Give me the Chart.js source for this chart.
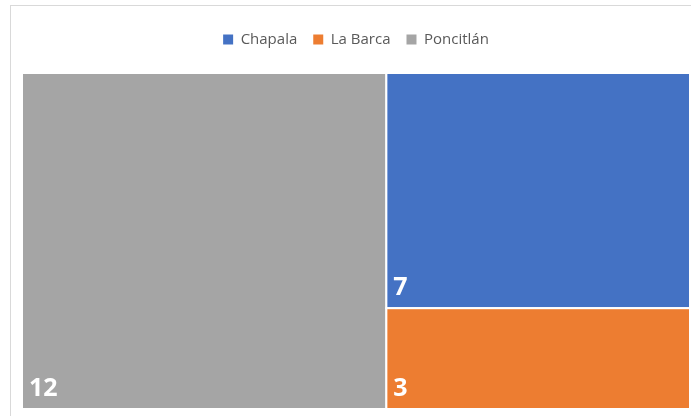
<!DOCTYPE html>
<html>
<head>
<meta charset="utf-8">
<script src="https://cdn.jsdelivr.net/npm/chart.js@4.4.0/dist/chart.umd.min.js"></script>
<style>
    html, body { margin: 0; padding: 0; background: #fff; overflow: hidden; }
    #frame { position: absolute; left: 10px; top: 5px; width: 800px; height: 500px; border: 1px solid #d9d9d9; }
    #wrap { position: absolute; left: 0; top: 0; width: 691px; height: 416px; }
</style>
</head>
<body>
<div id="frame"></div>
<div id="wrap"><canvas id="c"></canvas></div>
<script>
// Data treemap
const categories = ['Chapala', 'La Barca', 'Poncitlán'];
const values = [7, 3, 12];
const colors = ['#4472C4', '#ED7D31', '#A5A5A5'];

// Hitung layout treemap (slice sederhana, item terbesar dulu) dalam satuan 0..1
function layoutTreemap(pw, ph) {
    const order = values.map((v, i) => i).sort((a, b) => values[b] - values[a]);
    let rect = { x: 0, y: 0, w: 1, h: 1 };
    let remaining = values.reduce((a, b) => a + b, 0);
    const cells = [];
    order.forEach((idx, k) => {
        const v = values[idx];
        if (k === order.length - 1) {
            cells.push({ idx, x: rect.x, y: rect.y, w: rect.w, h: rect.h });
            return;
        }
        const frac = v / remaining;
        if (rect.w * pw >= rect.h * ph) {
            const w = rect.w * frac;
            cells.push({ idx, x: rect.x, y: rect.y, w, h: rect.h });
            rect = { x: rect.x + w, y: rect.y, w: rect.w - w, h: rect.h };
        } else {
            const h = rect.h * frac;
            cells.push({ idx, x: rect.x, y: rect.y, w: rect.w, h });
            rect = { x: rect.x, y: rect.y + h, w: rect.w, h: rect.h - h };
        }
        remaining -= v;
    });
    return cells;
}

const treemapPlugin = {
    id: 'treemap',
    beforeInit(chart) {
        const fit = chart.legend.fit;
        chart.legend.fit = function () {
            fit.call(this);
            this.height = 57;
        };
    },
    afterDatasetsDraw(chart) {
        const { ctx, chartArea, scales } = chart;
        const xs = scales.x, ys = scales.y;
        const cells = layoutTreemap(chartArea.width, chartArea.height);
        cells.forEach(c => {
            const x0 = xs.getPixelForValue(c.x);
            const x1 = xs.getPixelForValue(c.x + c.w);
            const y0 = ys.getPixelForValue(c.y);
            const y1 = ys.getPixelForValue(c.y + c.h);
            ctx.save();
            ctx.fillStyle = colors[c.idx];
            ctx.fillRect(x0, y0, x1 - x0, y1 - y0);
            ctx.strokeStyle = '#ffffff';
            ctx.lineWidth = 2;
            ctx.strokeRect(x0, y0, x1 - x0, y1 - y0);
            ctx.fillStyle = '#ffffff';
            ctx.font = 'bold 25px "Open Sans"';
            ctx.textBaseline = 'alphabetic';
            ctx.fillText(String(values[c.idx]), x0 + 7, y1 - 13);
            ctx.restore();
        });
    }
};

const ctx = document.getElementById('c').getContext('2d');
new Chart(ctx, {
    type: 'scatter',
    data: {
        datasets: categories.map((name, i) => ({
            label: name,
            data: [],
            backgroundColor: colors[i],
            borderColor: colors[i],
            borderWidth: 0
        }))
    },
    options: {
        responsive: true,
        maintainAspectRatio: false,
        animation: false,
        layout: { padding: { left: 22, right: 1, top: 16, bottom: 7 } },
        scales: {
            x: { display: false, min: 0, max: 1 },
            y: { display: false, min: 0, max: 1, reverse: true }
        },
        plugins: {
            legend: {
                position: 'top',
                onClick: null,
                labels: {
                    color: '#595959',
                    font: { family: 'Open Sans', size: 15 },
                    boxWidth: 10,
                    boxHeight: 10,
                    padding: 16
                }
            },
            tooltip: { enabled: false }
        }
    },
    plugins: [treemapPlugin]
});
</script>
</body>
</html>
